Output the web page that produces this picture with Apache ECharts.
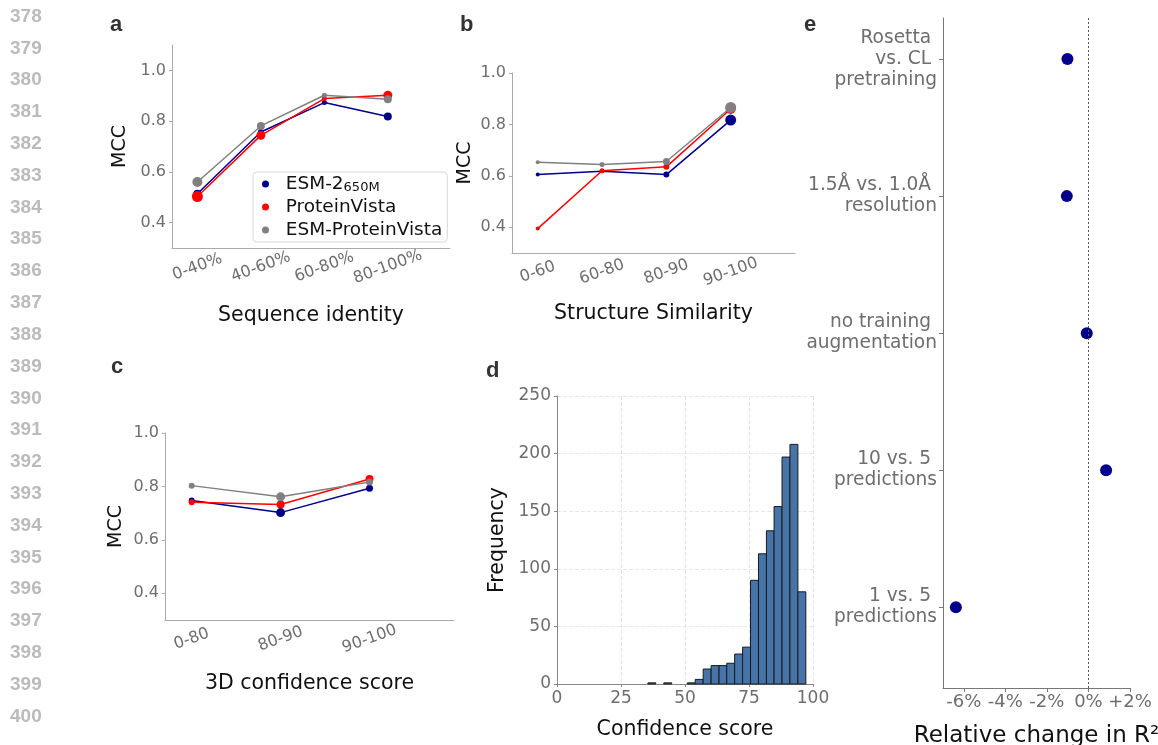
<!DOCTYPE html>
<html><head><meta charset="utf-8">
<script src="https://cdn.jsdelivr.net/npm/echarts@6/dist/echarts.min.js"></script>
<style>html,body{margin:0;padding:0;background:#fff}#c{width:1158px;height:745px}</style>
</head><body><div id="c"></div>
<script>
// ---------- data ----------
const seriesNames = ['ESM-2_650M', 'ProteinVista', 'ESM-ProteinVista'];
const seqIdCats = ['0-40%', '40-60%', '60-80%', '80-100%'];
const seqEsm = [0.514, 0.757, 0.873, 0.818];
const seqPV  = [0.503, 0.744, 0.889, 0.902];
const seqEPV = [0.560, 0.781, 0.902, 0.886];
const structCats = ['0-60', '60-80', '80-90', '90-100'];
const structEsm = [0.605, 0.618, 0.605, 0.817];
const structPV  = [0.395, 0.620, 0.635, 0.860];
const structEPV = [0.653, 0.644, 0.656, 0.866];
const confCats = ['0-80', '80-90', '90-100'];
const confEsm = [0.747, 0.702, 0.793];
const confPV  = [0.741, 0.732, 0.828];
const confEPV = [0.803, 0.761, 0.817];
const histEdges = [35.5, 38.6, 41.7, 44.8, 47.9, 50.9, 54.0, 57.1, 60.2, 63.3, 66.3, 69.4, 72.5, 75.6, 78.7, 81.8, 84.8, 87.9, 91.0, 94.1, 97.2];
const histCounts = [1, 0, 1, 0, 0, 1, 4, 13, 16, 16, 18, 26, 32, 90, 113, 133, 154, 197, 208, 80];
const ablationCats = ['Rosetta \nvs. CL \npretraining', '1.5Å vs. 1.0Å \nresolution', 'no training \naugmentation', '10 vs. 5 \npredictions', '1 vs. 5 \npredictions'];
const ablationChange = [-1.01, -1.04, -0.08, 0.85, -6.38];
const mccTicks = [0.4, 0.6, 0.8, 1.0];
const pctTicks = [-6, -4, -2, 0, 2];
const lineNumbers = [378,379,380,381,382,383,384,385,386,387,388,389,390,391,392,393,394,395,396,397,398,399,400];

// ---------- styles ----------
const colors = ['#00008b', '#ff0000', '#808080'];
const sizesA = [[8, 6, 5, 8], [11, 9, 5, 9], [10, 8, 5, 8]];
const sizesB = [[4, 4, 6, 11], [4, 5, 6, 10], [4, 5, 7, 11]];
const sizesC = [[6, 9, 7], [6, 8, 8], [6, 9, 7]];
const FONT = 'DejaVu Sans';
const TICK_GRAY = '#6e6e6e';
const TITLE_SIZE = 20.5;

const chart = echarts.init(document.getElementById('c'), null, {renderer: 'canvas'});

function mccY(idx, min, max, gap) {
  return {
    type: 'value', gridIndex: idx, min: min, max: max,
    axisLine: {show: true, onZero: false, lineStyle: {color: '#aaa', width: 1}},
    axisTick: {show: true, length: 3, customValues: mccTicks, lineStyle: {color: '#aaa'}},
    axisLabel: {customValues: mccTicks, formatter: v => v.toFixed(1), fontSize: 16, color: TICK_GRAY, margin: 6, fontFamily: FONT},
    splitLine: {show: false},
    name: 'MCC', nameLocation: 'middle', nameGap: gap,
    nameTextStyle: {fontSize: 19, color: '#111', fontFamily: FONT}
  };
}
function catX(idx, cats, min, max, title, gap) {
  return {
    type: 'value', gridIndex: idx, min: min, max: max,
    axisLine: {show: true, onZero: false, lineStyle: {color: '#aaa', width: 1}},
    axisTick: {show: false},
    axisLabel: {customValues: cats.map((c, i) => i), formatter: v => cats[Math.round(v)],
      rotate: 20, align: 'center', verticalAlign: 'middle', margin: 19,
      fontSize: 16, color: TICK_GRAY, fontFamily: FONT},
    splitLine: {show: false},
    name: title, nameLocation: 'middle', nameGap: gap,
    nameTextStyle: {fontSize: TITLE_SIZE, color: '#111', fontFamily: FONT}
  };
}
function lineSeries(k, idx, vals, sizes, z) {
  return {
    type: 'line', name: seriesNames[k], xAxisIndex: idx, yAxisIndex: idx,
    data: vals.map((v, i) => [i, v]),
    symbol: 'circle', showSymbol: true,
    symbolSize: (val, p) => sizes[p.dataIndex],
    lineStyle: {color: colors[k], width: 1.5},
    itemStyle: {color: colors[k], opacity: 1},
    z: z, animation: false
  };
}

const graphics = [];
lineNumbers.forEach((n, i) => {
  graphics.push({type: 'text', left: 10, top: 7 + i * 31.82, silent: true,
    style: {text: String(n), font: 'bold 19px "Liberation Sans"', fill: '#bbbbbb'}});
});
[['a', 110, 14], ['b', 460, 14], ['c', 111, 356], ['d', 486, 360], ['e', 804, 14]].forEach(l => {
  graphics.push({type: 'text', left: l[1], top: l[2], silent: true,
    style: {text: l[0], font: 'bold 22px "Liberation Sans"', fill: '#333'}});
});

const G = {outerBoundsMode: 'none', containLabel: false};
const option = {
  animation: false,
  textStyle: {fontFamily: FONT},
  grid: [
    Object.assign({left: 172, top: 45, width: 278, height: 203}, G),
    Object.assign({left: 512, top: 73, width: 283, height: 180}, G),
    Object.assign({left: 165, top: 433, width: 289, height: 187}, G),
    Object.assign({left: 557, top: 396, width: 256, height: 288}, G),
    Object.assign({left: 943, top: 18, width: 187, height: 670}, G)
  ],
  legend: {
    data: seriesNames, left: 253, top: 172, orient: 'vertical',
    icon: 'circle', itemWidth: 7, itemHeight: 7, itemGap: 3,
    padding: [2, 5, 2, 9],
    backgroundColor: 'rgba(255,255,255,0.85)', borderColor: '#d8d8d8', borderWidth: 1, borderRadius: 4,
    formatter: n => n === 'ESM-2_650M' ? '  ESM-2{sub|650M}' : '  ' + n,
    textStyle: {fontSize: 18.5, color: '#111', fontFamily: FONT, lineHeight: 20,
      rich: {sub: {fontSize: 13, fontFamily: FONT, color: '#111', verticalAlign: 'bottom', lineHeight: 13}}}
  },
  xAxis: [
    catX(0, seqIdCats, -0.4, 3.98, 'Sequence identity', 57),
    catX(1, structCats, -0.4, 4.0, 'Structure Similarity', 50),
    catX(2, confCats, -0.3, 2.95, '3D confidence score', 53),
    {
      type: 'value', gridIndex: 3, min: 0, max: 100, interval: 25,
      axisLine: {show: true, onZero: false, lineStyle: {color: '#888'}},
      axisTick: {show: true, length: 3, lineStyle: {color: '#888'}},
      axisLabel: {fontSize: 17, color: TICK_GRAY, margin: 6, fontFamily: FONT},
      splitLine: {show: true, lineStyle: {color: '#e6e6e6', type: 'dashed', width: 1}},
      name: 'Confidence score', nameLocation: 'middle', nameGap: 35,
      nameTextStyle: {fontSize: TITLE_SIZE, color: '#111', fontFamily: FONT}
    },
    {
      type: 'value', gridIndex: 4, min: -7, max: 2,
      axisLine: {show: true, onZero: false, lineStyle: {color: '#777'}},
      axisTick: {show: true, length: 4, customValues: pctTicks, lineStyle: {color: '#777'}},
      axisLabel: {customValues: pctTicks, formatter: v => (v > 0 ? '+' : '') + v + '%',
        fontSize: 18, color: TICK_GRAY, margin: 5, fontFamily: FONT},
      splitLine: {show: false},
      name: 'Relative change in R²', nameLocation: 'middle', nameGap: 37,
      nameTextStyle: {fontSize: 23, color: '#111', fontFamily: FONT}
    }
  ],
  yAxis: [
    mccY(0, 0.3, 1.1, 42),
    mccY(1, 0.3, 1.0, 37),
    mccY(2, 0.3, 1.0, 39),
    {
      type: 'value', gridIndex: 3, min: 0, max: 250, interval: 50,
      axisLine: {show: true, onZero: false, lineStyle: {color: '#888'}},
      axisTick: {show: true, length: 3, lineStyle: {color: '#888'}},
      axisLabel: {fontSize: 17, color: TICK_GRAY, margin: 6, fontFamily: FONT},
      splitLine: {show: true, lineStyle: {color: '#e6e6e6', type: 'dashed', width: 1}},
      name: 'Frequency', nameLocation: 'middle', nameGap: 49,
      nameTextStyle: {fontSize: TITLE_SIZE, color: '#111', fontFamily: FONT}
    },
    {
      type: 'value', gridIndex: 4, min: -0.3, max: 4.59, inverse: true,
      axisLine: {show: true, onZero: false, lineStyle: {color: '#777'}},
      axisTick: {show: true, length: 4, customValues: [0, 1, 2, 3, 4], lineStyle: {color: '#777'}},
      axisLabel: {customValues: [0, 1, 2, 3, 4], formatter: v => ablationCats[Math.round(v)],
        fontSize: 18.6, lineHeight: 21, color: TICK_GRAY, margin: 6, align: 'right', fontFamily: FONT},
      splitLine: {show: false}
    }
  ],
  series: [
    lineSeries(0, 0, seqEsm, sizesA[0], 2),
    lineSeries(1, 0, seqPV, sizesA[1], 3),
    lineSeries(2, 0, seqEPV, sizesA[2], 4),
    lineSeries(0, 1, structEsm, sizesB[0], 2),
    lineSeries(1, 1, structPV, sizesB[1], 3),
    lineSeries(2, 1, structEPV, sizesB[2], 4),
    lineSeries(0, 2, confEsm, sizesC[0], 2),
    lineSeries(1, 2, confPV, sizesC[1], 3),
    lineSeries(2, 2, confEPV, sizesC[2], 4),
    {
      type: 'custom', name: 'hist', xAxisIndex: 3, yAxisIndex: 3,
      data: histCounts.map((c, i) => [histEdges[i], histEdges[i + 1], c]),
      encode: {x: [0, 1], y: 2},
      renderItem: (params, api) => {
        const c = api.value(2);
        if (!c) return null;
        const p0 = api.coord([api.value(0), c]);
        const p1 = api.coord([api.value(1), 0]);
        return {type: 'rect', shape: {x: p0[0], y: p0[1], width: p1[0] - p0[0], height: p1[1] - p0[1]},
          style: {fill: '#4674a8', stroke: '#1a1a1a', lineWidth: 1}};
      },
      animation: false
    },
    {
      type: 'scatter', name: 'ablation', xAxisIndex: 4, yAxisIndex: 4,
      data: ablationChange.map((v, i) => [v, i]),
      symbolSize: 12, itemStyle: {color: '#00008b', opacity: 1},
      markLine: {silent: true, symbol: 'none', label: {show: false},
        lineStyle: {type: [2, 2], color: '#555', width: 1},
        data: [{xAxis: 0}]},
      animation: false
    }
  ],
  graphic: graphics
};
chart.setOption(option);
</script>
</body></html>
